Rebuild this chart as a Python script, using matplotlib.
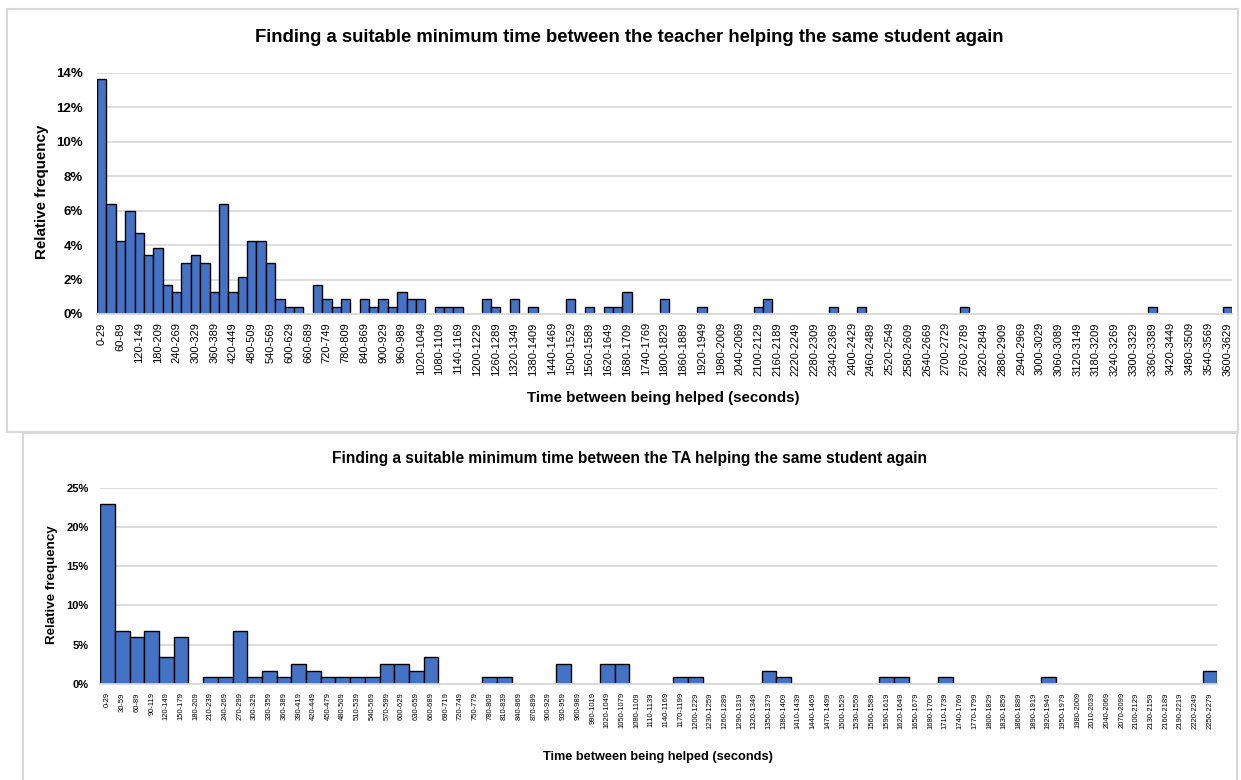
import matplotlib
matplotlib.use('Agg')
import matplotlib.pyplot as plt
from matplotlib.patches import Rectangle

plt.rcParams['font.family'] = ['Liberation Sans', 'DejaVu Sans']

# ---------------- data ----------------
top_title = "Finding a suitable minimum time between the teacher helping the same student again"
bottom_title = "Finding a suitable minimum time between the TA helping the same student again"
x_title = "Time between being helped (seconds)"
y_title = "Relative frequency"

top_bins = [f"{30*i}-{30*i+29}" for i in range(121)]
top_pct = [13.62, 6.38, 4.26, 5.96, 4.68, 3.40, 3.83, 1.70, 1.28, 2.98,
           3.40, 2.98, 1.28, 6.38, 1.28, 2.13, 4.26, 4.26, 2.98, 0.85,
           0.43, 0.43, 0, 1.70, 0.85, 0.43, 0.85, 0, 0.85, 0.43,
           0.85, 0.43, 1.28, 0.85, 0.85, 0, 0.43, 0.43, 0.43, 0,
           0, 0.85, 0.43, 0, 0.85, 0, 0.43, 0, 0, 0,
           0.85, 0, 0.43, 0, 0.43, 0.43, 1.28, 0, 0, 0,
           0.85, 0, 0, 0, 0.43, 0, 0, 0, 0, 0,
           0.43, 0.85, 0, 0, 0, 0, 0, 0, 0.43, 0,
           0, 0.43, 0, 0, 0, 0, 0, 0, 0, 0,
           0, 0, 0.43, 0, 0, 0, 0, 0, 0, 0,
           0, 0, 0, 0, 0, 0, 0, 0, 0, 0,
           0, 0, 0.43, 0, 0, 0, 0, 0, 0, 0,
           0.43]

bottom_bins = [f"{30*i}-{30*i+29}" for i in range(76)]
bottom_pct = [22.88, 6.78, 5.93, 6.78, 3.39, 5.93, 0, 0.85, 0.85, 6.78,
              0.85, 1.69, 0.85, 2.54, 1.69, 0.85, 0.85, 0.85, 0.85, 2.54,
              2.54, 1.69, 3.39, 0, 0, 0, 0.85, 0.85, 0, 0,
              0, 2.54, 0, 0, 2.54, 2.54, 0, 0, 0, 0.85,
              0.85, 0, 0, 0, 0, 1.69, 0.85, 0, 0, 0,
              0, 0, 0, 0.85, 0.85, 0, 0, 0.85, 0, 0,
              0, 0, 0, 0, 0.85, 0, 0, 0, 0, 0,
              0, 0, 0, 0, 0, 1.69]

top_yticks = [0, 2, 4, 6, 8, 10, 12, 14]
bottom_yticks = [0, 5, 10, 15, 20, 25]

# ---------------- figure ----------------
W, H = 1241, 780
fig = plt.figure(figsize=(W / 100, H / 100), dpi=100)


def fx(px):
    return px / W


def fy(py):
    return 1 - py / H


BAR = '#4472C4'
GRID = '#d9d9d9'

# chart-area borders
fig.patches.append(Rectangle((fx(7), fy(432)), fx(1238) - fx(7), fy(9) - fy(432),
                             transform=fig.transFigure, fill=False,
                             edgecolor=GRID, lw=1.5))
fig.patches.append(Rectangle((fx(23), fy(800)), fx(1237) - fx(23), fy(433) - fy(800),
                             transform=fig.transFigure, fill=False,
                             edgecolor=GRID, lw=1.5))


def style_axes(ax, yticks, ypad, fs_y):
    for s in ['top', 'right', 'left']:
        ax.spines[s].set_visible(False)
    ax.spines['bottom'].set_color(GRID)
    ax.spines['bottom'].set_linewidth(1.3)
    ax.set_yticks(yticks)
    ax.set_yticklabels([f"{v}%" for v in yticks], fontsize=fs_y, fontweight='bold')
    ax.yaxis.grid(True, color=GRID, lw=1.3)
    ax.set_axisbelow(True)
    ax.tick_params(axis='both', length=0)
    ax.tick_params(axis='y', pad=ypad)


# ---- top chart ----
ax1 = fig.add_axes([fx(97), fy(314), fx(1232) - fx(97), fy(72.7) - fy(314)])
xs1 = list(range(len(top_pct)))
ax1.bar(xs1, top_pct, width=1.0, color=BAR, edgecolor='black',
        linewidth=[1.0 if v > 0 else 0 for v in top_pct])
ax1.set_xlim(-0.5, len(top_pct) - 0.5)
ax1.set_ylim(0, 14)
style_axes(ax1, top_yticks, 10, 9.5)
ax1.set_xticks(xs1[::2])
ax1.set_xticklabels(top_bins[::2], rotation=90, fontsize=8)
ax1.tick_params(axis='x', pad=6)

fig.text(fx(629), fy(37), top_title, ha='center', va='center',
         fontsize=13.3, fontweight='bold')
fig.text(fx(663), fy(398), x_title, ha='center', va='center',
         fontsize=10.9, fontweight='bold')
fig.text(fx(42), fy(192), y_title, ha='center', va='center', rotation=90,
         fontsize=10.9, fontweight='bold')

# ---- bottom chart ----
ax2 = fig.add_axes([fx(100.3), fy(684), fx(1217.3) - fx(100.3), fy(487.7) - fy(684)])
xs2 = list(range(len(bottom_pct)))
ax2.bar(xs2, bottom_pct, width=1.0, color=BAR, edgecolor='black',
        linewidth=[1.0 if v > 0 else 0 for v in bottom_pct])
ax2.set_xlim(-0.5, len(bottom_pct) - 0.5)
ax2.set_ylim(0, 25)
style_axes(ax2, bottom_yticks, 8.5, 8)
ax2.set_xticks(xs2)
ax2.set_xticklabels(bottom_bins, rotation=90, fontsize=5.5)
ax2.tick_params(axis='x', pad=6)

fig.text(fx(630), fy(458), bottom_title, ha='center', va='center',
         fontsize=11.2, fontweight='bold')
fig.text(fx(658), fy(757), x_title, ha='center', va='center',
         fontsize=9.2, fontweight='bold')
fig.text(fx(52), fy(585), y_title, ha='center', va='center', rotation=90,
         fontsize=9.6, fontweight='bold')

fig.savefig('out.png', dpi=100)
